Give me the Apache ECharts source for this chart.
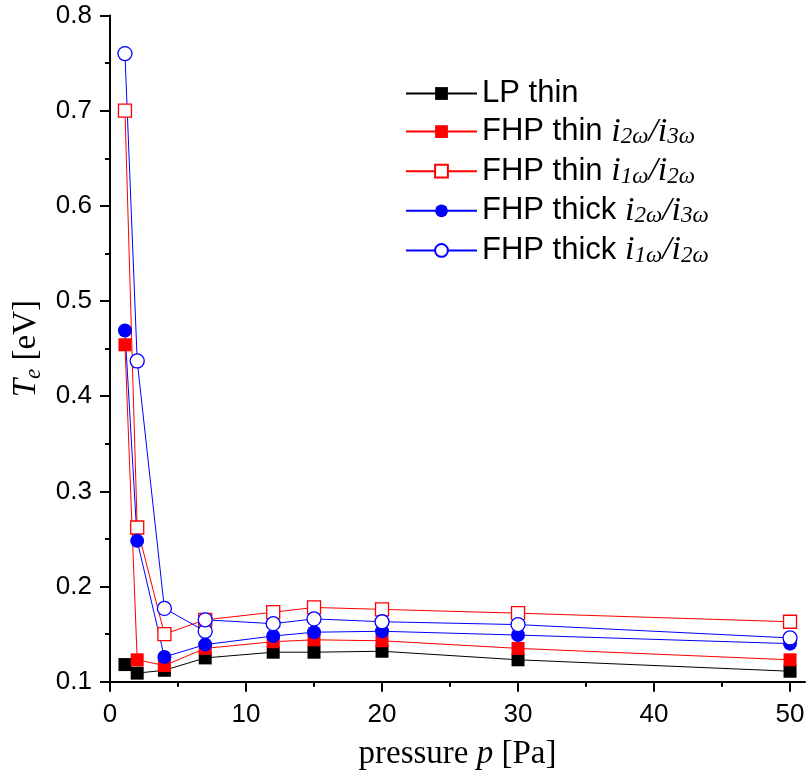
<!DOCTYPE html>
<html>
<head>
<meta charset="utf-8">
<script src="https://cdn.jsdelivr.net/npm/echarts@6/dist/echarts.min.js"></script>
<style>
  html, body { margin: 0; padding: 0; background: #fff; }
  #chart { width: 808px; height: 774px; }
</style>
</head>
<body>
<div id="chart"></div>
<script>
// Pressure in Pa
const pressure = [1.1, 2, 4, 7, 12, 15, 20, 30, 50];
// the thick-probe i1w/i2w set has two readings at 7 Pa
const pressureThick12 = [1.1, 2, 4, 7, 7, 12, 15, 20, 30, 50];

// Electron temperature Te in eV
const lpThin      = [0.118, 0.109, 0.112, 0.125, 0.131, 0.131, 0.132, 0.123, 0.111];
const fhpThin23   = [0.454, 0.123, 0.117, 0.135, 0.142, 0.144, 0.143, 0.135, 0.123];
const fhpThin12   = [0.700, 0.262, 0.150, 0.165, 0.173, 0.178, 0.176, 0.172, 0.163];
const fhpThick23  = [0.469, 0.248, 0.126, 0.139, 0.148, 0.152, 0.153, 0.149, 0.140];
const fhpThick12  = [0.760, 0.437, 0.177, 0.153, 0.165, 0.161, 0.166, 0.163, 0.160, 0.146];

const seriesNames = [
  'LP thin',
  'FHP thin i2ω/i3ω',
  'FHP thin i1ω/i2ω',
  'FHP thick i2ω/i3ω',
  'FHP thick i1ω/i2ω'
];

// legend labels: sans text followed by math-style ratio
const legendLabels = [
  '{t|LP thin}',
  '{t|FHP thin }{m|i}{s|2ω}{m|/i}{s|3ω}',
  '{t|FHP thin }{m|i}{s|1ω}{m|/i}{s|2ω}',
  '{t|FHP thick }{m|i}{s|2ω}{m|/i}{s|3ω}',
  '{t|FHP thick }{m|i}{s|1ω}{m|/i}{s|2ω}'
];

const xMajorTicks = [0, 10, 20, 30, 40, 50];
const xMinorTicks = [5, 15, 25, 35, 45];
const yMin = 0.1, yMax = 0.8, yStep = 0.1;

const BLACK = '#000000', RED = '#ff0000', BLUE = '#0000ff';
const SANS = 'Liberation Sans';
const SERIF = 'Liberation Serif';

function pairs(xs, ys) { return xs.map((x, i) => [x, ys[i]]); }

function lineSeries(name, data, color, symbol, open) {
  return {
    type: 'line',
    name: name,
    data: data,
    symbol: symbol,
    symbolSize: symbol === 'circle' ? 14 : 13,
    showSymbol: true,
    lineStyle: { color: color, width: 1 },
    itemStyle: open
      ? { color: '#ffffff', borderColor: color, borderWidth: 1.3 }
      : { color: color, borderWidth: 0 },
    emphasis: { disabled: true },
    animation: false
  };
}

const chart = echarts.init(document.getElementById('chart'), null, { renderer: 'canvas' });

const axisColor = '#000';
const legendMap = {};
seriesNames.forEach((n, i) => { legendMap[n] = legendLabels[i]; });

chart.setOption({
  backgroundColor: '#ffffff',
  animation: false,
  grid: { left: 110, right: 3, top: 15.5, bottom: 92.3, outerBoundsMode: 'none' },
  legend: {
    orient: 'vertical',
    left: 400,
    top: 73,
    itemWidth: 71,
    itemHeight: 16,
    itemGap: 5.6,
    data: seriesNames,
    formatter: name => legendMap[name],
    textStyle: {
      color: '#000',
      rich: {
        t: { fontFamily: SANS, fontSize: 31, lineHeight: 34, color: '#000' },
        m: { fontFamily: SERIF, fontStyle: 'italic', fontSize: 34, lineHeight: 34, color: '#000' },
        s: { fontFamily: SERIF, fontStyle: 'italic', fontSize: 23, lineHeight: 22, verticalAlign: 'bottom', color: '#000' }
      }
    }
  },
  xAxis: [
    {
      type: 'value',
      min: 0,
      max: 51.1,
      position: 'bottom',
      axisLine: { show: true, onZero: false, lineStyle: { color: axisColor, width: 2 } },
      axisTick: { show: true, length: 10, customValues: xMajorTicks, lineStyle: { color: axisColor, width: 2 } },
      axisLabel: {
        customValues: xMajorTicks,
        fontFamily: SANS, fontSize: 26, color: '#000', margin: 20
      },
      splitLine: { show: false },
      name: '{r|pressure }{i|p}{r| [Pa]}',
      nameLocation: 'middle',
      nameGap: 56,
      nameTextStyle: {
        rich: {
          r: { fontFamily: SERIF, fontSize: 33, color: '#000' },
          i: { fontFamily: SERIF, fontStyle: 'italic', fontSize: 33, color: '#000' }
        }
      }
    },
    {
      // minor ticks every 5 Pa
      type: 'value',
      min: 0,
      max: 51.1,
      position: 'bottom',
      axisLine: { show: false },
      axisTick: { show: true, length: 5, customValues: xMinorTicks, lineStyle: { color: axisColor, width: 2 } },
      axisLabel: { show: false },
      splitLine: { show: false }
    }
  ],
  yAxis: {
    type: 'value',
    min: yMin,
    max: yMax,
    interval: yStep,
    axisLine: { show: true, onZero: false, lineStyle: { color: axisColor, width: 2 } },
    axisTick: { show: true, length: 10, lineStyle: { color: axisColor, width: 2 } },
    minorTick: { show: true, splitNumber: 2, length: 5, lineStyle: { color: axisColor, width: 2 } },
    axisLabel: {
      fontFamily: SANS, fontSize: 26, color: '#000', margin: 18,
      formatter: v => v.toFixed(1)
    },
    splitLine: { show: false },
    minorSplitLine: { show: false },
    name: '{T|T}{e|e}{b| [eV]}',
    nameLocation: 'middle',
    nameRotate: 90,
    nameGap: 60,
    nameTextStyle: {
      rich: {
        T: { fontFamily: SERIF, fontStyle: 'italic', fontSize: 33, lineHeight: 38, color: '#000' },
        e: { fontFamily: SERIF, fontStyle: 'italic', fontSize: 23, lineHeight: 26, verticalAlign: 'bottom', color: '#000' },
        b: { fontFamily: SERIF, fontSize: 33, lineHeight: 38, color: '#000' }
      }
    }
  },
  series: [
    lineSeries(seriesNames[0], pairs(pressure, lpThin), BLACK, 'rect', false),
    lineSeries(seriesNames[1], pairs(pressure, fhpThin23), RED, 'rect', false),
    lineSeries(seriesNames[2], pairs(pressure, fhpThin12), RED, 'rect', true),
    lineSeries(seriesNames[3], pairs(pressure, fhpThick23), BLUE, 'circle', false),
    lineSeries(seriesNames[4], pairs(pressureThick12, fhpThick12), BLUE, 'circle', true)
  ]
});
</script>
</body>
</html>
